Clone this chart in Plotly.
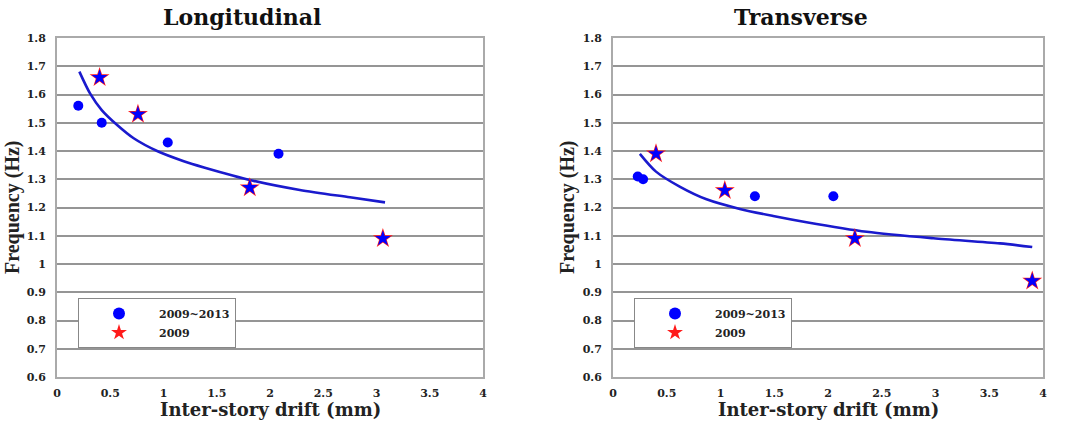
import plotly.graph_objects as go

# ---------------- data ----------------
# Longitudinal
lon_circ_x = [0.20, 0.42, 1.04, 2.08]
lon_circ_y = [1.56, 1.50, 1.43, 1.39]
lon_star_x = [0.40, 0.76, 1.81, 3.06]
lon_star_y = [1.66, 1.53, 1.27, 1.09]
lon_fit_x = [0.21, 0.31, 0.42, 0.565, 0.72, 0.94, 1.19, 1.38, 1.84, 2.28, 2.75, 3.08]
lon_fit_y = [1.681, 1.604, 1.545, 1.492, 1.445, 1.400, 1.364, 1.342, 1.295, 1.262, 1.236, 1.218]

# Transverse
tra_circ_x = [0.23, 0.28, 1.32, 2.05]
tra_circ_y = [1.31, 1.30, 1.24, 1.24]
tra_star_x = [0.40, 1.04, 2.25, 3.90]
tra_star_y = [1.39, 1.26, 1.09, 0.94]
tra_fit_x = [0.25, 0.40, 0.62, 0.87, 1.18, 1.49, 1.80, 2.36, 2.98, 3.60, 3.90]
tra_fit_y = [1.39, 1.327, 1.274, 1.229, 1.195, 1.17, 1.148, 1.114, 1.091, 1.073, 1.06]

series_names = ["2009~2013", "2009"]
panel_titles = ["Longitudinal", "Transverse"]
x_title = "Inter-story drift (mm)"
y_title = "Frequency (Hz)"
x_ticks = [0, 0.5, 1, 1.5, 2, 2.5, 3, 3.5, 4]
y_ticks = [0.6, 0.7, 0.8, 0.9, 1.0, 1.1, 1.2, 1.3, 1.4, 1.5, 1.6, 1.7, 1.8]
y_tick_text = ["0.6", "0.7", "0.8", "0.9", "1", "1.1", "1.2", "1.3", "1.4", "1.5", "1.6", "1.7", "1.8"]

# ---------------- style ----------------
SERIF = "DejaVu Serif"
BLUE = "#0000ff"
LINE_BLUE = "#1a1acd"
RED = "#ff1a1a"
W, H = 1066, 433

fig = go.Figure()

def add_panel(xa, ya, legend, cx, cy, sx, sy, fx, fy):
    fig.add_trace(go.Scatter(x=fx, y=fy, mode="lines", line=dict(color=LINE_BLUE, width=2.6, shape="spline", smoothing=0.8),
                             xaxis=xa, yaxis=ya, showlegend=False, hoverinfo="skip"))
    fig.add_trace(go.Scatter(x=cx, y=cy, mode="markers", name=series_names[0],
                             marker=dict(symbol="circle", size=10, color=BLUE),
                             xaxis=xa, yaxis=ya, legend=legend))
    fig.add_trace(go.Scatter(x=sx, y=sy, mode="markers", name=series_names[1],
                             marker=dict(symbol="star", size=15, color=RED),
                             xaxis=xa, yaxis=ya, legend=legend))
    fig.add_trace(go.Scatter(x=sx, y=sy, mode="markers", showlegend=False,
                             marker=dict(symbol="star", size=12, color=BLUE),
                             xaxis=xa, yaxis=ya))

add_panel("x", "y", "legend", lon_circ_x, lon_circ_y, lon_star_x, lon_star_y, lon_fit_x, lon_fit_y)
add_panel("x2", "y2", "legend2", tra_circ_x, tra_circ_y, tra_star_x, tra_star_y, tra_fit_x, tra_fit_y)

tickfont = dict(family=SERIF, size=11, color="#222", weight="bold")
CLEAR = "rgba(0,0,0,0)"

def xaxis(domain, anchor):
    return dict(domain=domain, anchor=anchor, range=[0, 4], tickvals=x_ticks,
                ticktext=[("%g" % v) for v in x_ticks], tickfont=tickfont,
                showgrid=False, zeroline=False, showline=True, linecolor="#aaaaaa", linewidth=2,
                mirror=True, ticks="outside", ticklen=5, tickcolor=CLEAR, automargin=False)

def yaxis(domain, anchor):
    return dict(domain=domain, anchor=anchor, range=[0.6, 1.8], tickvals=y_ticks, ticktext=y_tick_text,
                tickfont=tickfont, showgrid=True, gridcolor="#959595", gridwidth=1.5,
                zeroline=False, showline=True, linecolor="#aaaaaa", linewidth=2, mirror=True,
                ticks="outside", ticklen=7, tickcolor=CLEAR, automargin=False)

YDOM = [1 - 377 / H, 1 - 38 / H]
legend_style = dict(xanchor="left", yanchor="top", bgcolor="white", bordercolor="#888888", borderwidth=1,
                    font=dict(family=SERIF, size=11, color="#222", weight="bold"),
                    itemwidth=70, tracegroupgap=0, itemsizing="constant")

ann = []
for title, cx, pcx, tx in [(panel_titles[0], 242, 270, 12), (panel_titles[1], 801, 828, 567)]:
    ann.append(dict(text=title, x=cx / W, y=1 - 17 / H, xref="paper", yref="paper", showarrow=False,
                    xanchor="center", yanchor="middle",
                    font=dict(family=SERIF, size=22, color="#111", weight="bold")))
    ann.append(dict(text=x_title, x=pcx / W, y=1 - 409 / H, xref="paper", yref="paper", showarrow=False,
                    xanchor="center", yanchor="middle",
                    font=dict(family=SERIF, size=18, color="#222", weight="bold")))
    ann.append(dict(text=y_title, x=tx / W, y=1 - 207 / H, xref="paper", yref="paper", showarrow=False,
                    xanchor="center", yanchor="middle", textangle=-90,
                    font=dict(family="Liberation Serif", size=20, color="#222", weight="bold")))

fig.update_layout(
    width=W, height=H,
    margin=dict(l=0, r=0, t=0, b=0, autoexpand=False),
    paper_bgcolor="white", plot_bgcolor="white",
    showlegend=True,
    xaxis=xaxis([57 / W, 483 / W], "y"),
    yaxis=yaxis(YDOM, "x"),
    xaxis2=xaxis([613 / W, 1043 / W], "y2"),
    yaxis2=yaxis(YDOM, "x2"),
    legend=dict(x=78 / W, y=1 - 298 / H, **legend_style),
    legend2=dict(x=634 / W, y=1 - 298 / H, **legend_style),
    annotations=ann,
)

fig.write_html("out.html")
